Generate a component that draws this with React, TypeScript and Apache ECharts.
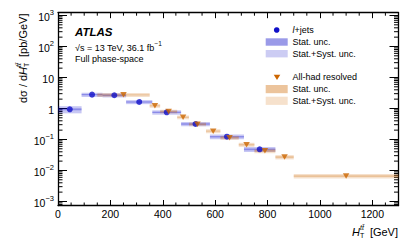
import React, { useEffect, useRef } from 'react';
import * as echarts from 'echarts';

// ---- data ----
const lepEdges = [0, 90, 170, 260, 360, 470, 580, 710, 830];
const lepValues = [0.94, 2.79, 2.67, 1.62, 0.75, 0.316, 0.123, 0.048];
const lepStat = [0.07, 0.05, 0.05, 0.05, 0.05, 0.06, 0.06, 0.07];
const lepTotal = [0.26, 0.16, 0.15, 0.15, 0.16, 0.16, 0.17, 0.18];

const hadEdges = [150, 350, 390, 455, 500, 565, 620, 690, 750, 830, 900, 1300];
const hadValues = [2.75, 1.22, 0.8, 0.52, 0.31, 0.185, 0.114, 0.068, 0.043, 0.027, 0.0066];
const hadStat = [0.05, 0.05, 0.05, 0.05, 0.05, 0.05, 0.06, 0.06, 0.06, 0.07, 0.07];
const hadTotal = [0.15, 0.14, 0.14, 0.14, 0.14, 0.15, 0.15, 0.15, 0.16, 0.16, 0.17];

const X_MIN = 0;
const X_MAX = 1300;
const X_INTERVAL = 200;
const X_MINOR_STEP = 50;
const Y_MIN = 7.4e-4;
const Y_MAX = 1230;

const FONT = '"Liberation Sans", Arial, Helvetica, sans-serif';
const BLUE = '#1010c8';
const ORANGE = '#cc6600';

const yMinorTicks: number[] = [];
for (let k = -4; k <= 3; k++) {
  for (let m = 2; m <= 9; m++) {
    const v = m * Math.pow(10, k);
    if (v > Y_MIN && v < Y_MAX) yMinorTicks.push(v);
  }
}
const xMinorTicks: number[] = [];
for (let v = X_MIN + X_MINOR_STEP; v < X_MAX; v += X_MINOR_STEP) {
  if (v % X_INTERVAL !== 0) xMinorTicks.push(v);
}

function bandSeries(edges: number[], values: number[], rel: number[], color: string, z: number) {
  return {
    type: 'custom',
    silent: true,
    z,
    encode: { x: [0, 1], y: 2 },
    data: values.map((v, i) => [edges[i], edges[i + 1], v, rel[i]]),
    renderItem: (_p: any, api: any) => {
      const lo = api.value(0);
      const hi = api.value(1);
      const v = api.value(2);
      const r = api.value(3);
      const p1 = api.coord([lo, v * (1 + r)]);
      const p2 = api.coord([hi, v * (1 - r)]);
      return {
        type: 'rect',
        shape: { x: p1[0], y: p1[1], width: p2[0] - p1[0], height: p2[1] - p1[1] },
        style: { fill: color },
      };
    },
  };
}

const centers = (edges: number[], values: number[]) =>
  values.map((v, i) => [(edges[i] + edges[i + 1]) / 2, v]);

export default function App() {
  const ref = useRef<HTMLDivElement>(null);
  useEffect(() => {
    if (!ref.current) return;
    const chart = echarts.init(ref.current, undefined, { renderer: 'svg' });
    const labelRich = {
      b: { fontSize: 10.5, fontFamily: FONT, color: '#000', verticalAlign: 'bottom', lineHeight: 14 },
      s: { fontSize: 7.5, fontFamily: FONT, color: '#000', verticalAlign: 'top', lineHeight: 14 },
    };
    const yFormatter = (v: number) => {
      const e = Math.round(Math.log10(v));
      if (e === 0) return '{b|1}';
      if (e === 1) return '{b|10}';
      return '{b|10}{s|' + (e < 0 ? '\u2212' + -e : e) + '}';
    };
    const txt = (x: number, y: number, text: string, size: number, extra: any = {}) => ({
      type: 'text',
      x,
      y,
      silent: true,
      style: {
        text,
        fontSize: size,
        fontFamily: FONT,
        fill: '#000',
        align: 'left',
        verticalAlign: 'middle',
        ...extra,
      },
    });
    const option: any = {
      animation: false,
      grid: { left: 58, right: 16.5, top: 12.7, bottom: 40.5, containLabel: false },
      xAxis: [
        {
          type: 'value',
          min: X_MIN,
          max: X_MAX,
          interval: X_INTERVAL,
          axisLine: { show: true, lineStyle: { color: '#000', width: 1.3 } },
          axisTick: { show: true, inside: true, length: 5.5, lineStyle: { color: '#000', width: 1 } },
          axisLabel: {
            show: true,
            showMaxLabel: false,
            margin: 3,
            fontSize: 10.5,
            fontFamily: FONT,
            color: '#000',
            formatter: (v: number) => String(v),
          },
          splitLine: { show: false },
        },
        {
          type: 'value',
          position: 'top',
          min: X_MIN,
          max: X_MAX,
          interval: X_INTERVAL,
          axisLine: { show: true, onZero: false, lineStyle: { color: '#000', width: 1.3 } },
          axisTick: { show: true, inside: true, length: 5.5, lineStyle: { color: '#000', width: 1 } },
          axisLabel: { show: false },
          splitLine: { show: false },
        },
      ],
      yAxis: [
        {
          type: 'log',
          logBase: 10,
          min: Y_MIN,
          max: Y_MAX,
          axisLine: { show: true, onZero: false, lineStyle: { color: '#000', width: 1.3 } },
          axisTick: { show: true, inside: true, length: 9, lineStyle: { color: '#000', width: 1 } },
          axisLabel: {
            show: true,
            showMinLabel: false,
            showMaxLabel: false,
            margin: 4,
            formatter: yFormatter,
            rich: labelRich,
          },
          splitLine: { show: false },
        },
        {
          type: 'log',
          logBase: 10,
          position: 'right',
          min: Y_MIN,
          max: Y_MAX,
          axisLine: { show: true, onZero: false, lineStyle: { color: '#000', width: 1.3 } },
          axisTick: { show: true, inside: true, length: 9, lineStyle: { color: '#000', width: 1 } },
          axisLabel: { show: false },
          splitLine: { show: false },
        },
      ],
      series: [
        // minor ticks on left/right
        {
          type: 'custom',
          silent: true,
          z: 1,
          data: yMinorTicks.map((v) => [X_MIN, v]),
          renderItem: (_p: any, api: any) => {
            const v = api.value(1);
            const a = api.coord([X_MIN, v]);
            const b = api.coord([X_MAX, v]);
            return {
              type: 'group',
              children: [
                { type: 'line', shape: { x1: a[0], y1: a[1], x2: a[0] + 4.5, y2: a[1] }, style: { stroke: '#000', lineWidth: 1 } },
                { type: 'line', shape: { x1: b[0], y1: b[1], x2: b[0] - 4.5, y2: b[1] }, style: { stroke: '#000', lineWidth: 1 } },
              ],
            };
          },
        },
        // minor ticks on bottom/top
        {
          type: 'custom',
          silent: true,
          z: 1,
          data: xMinorTicks.map((v) => [v, 1]),
          renderItem: (_p: any, api: any) => {
            const v = api.value(0);
            const a = api.coord([v, Y_MIN]);
            const b = api.coord([v, Y_MAX]);
            return {
              type: 'group',
              children: [
                { type: 'line', shape: { x1: a[0], y1: a[1], x2: a[0], y2: a[1] - 3 }, style: { stroke: '#000', lineWidth: 1 } },
                { type: 'line', shape: { x1: b[0], y1: b[1], x2: b[0], y2: b[1] + 3 }, style: { stroke: '#000', lineWidth: 1 } },
              ],
            };
          },
        },
        bandSeries(lepEdges, lepValues, lepTotal, 'rgba(0,0,204,0.22)', 2),
        bandSeries(lepEdges, lepValues, lepStat, 'rgba(0,0,204,0.3)', 3),
        bandSeries(hadEdges, hadValues, hadTotal, 'rgba(204,102,0,0.2)', 4),
        bandSeries(hadEdges, hadValues, hadStat, 'rgba(204,102,0,0.25)', 5),
        {
          type: 'scatter',
          z: 6,
          symbol: 'circle',
          symbolSize: 6,
          itemStyle: { color: BLUE },
          data: centers(lepEdges, lepValues),
        },
        {
          type: 'scatter',
          z: 7,
          symbol: 'triangle',
          symbolRotate: 180,
          symbolSize: [6.5, 5.5],
          itemStyle: { color: ORANGE },
          data: centers(hadEdges, hadValues),
        },
      ],
      graphic: [
        // ATLAS label
        txt(75, 32, 'ATLAS', 11.5, { fontWeight: 'bold', fontStyle: 'italic' }),
        {
          type: 'text',
          x: 75,
          y: 46,
          silent: true,
          style: {
            text: '{b|\u221As = 13 TeV, 36.1 fb}{s|\u22121}',
            fill: '#000',
            align: 'left',
            verticalAlign: 'middle',
            rich: {
              b: { fontSize: 9, fontFamily: FONT, fill: '#000', verticalAlign: 'bottom', lineHeight: 12 },
              s: { fontSize: 6.5, fontFamily: FONT, fill: '#000', verticalAlign: 'top', lineHeight: 12 },
            },
          },
        },
        txt(75, 58.5, 'Full phase-space', 9),
        // legend: l+jets
        { type: 'circle', silent: true, shape: { cx: 276.7, cy: 30, r: 2.8 }, style: { fill: BLUE } },
        {
          type: 'text',
          x: 292.5,
          y: 30,
          silent: true,
          style: {
            text: '{i|l}{n|+jets}',
            align: 'left',
            verticalAlign: 'middle',
            rich: {
              i: { fontSize: 9, fontFamily: FONT, fontStyle: 'italic', fill: '#000' },
              n: { fontSize: 9, fontFamily: FONT, fill: '#000' },
            },
          },
        },
        { type: 'rect', silent: true, shape: { x: 265.7, y: 38.3, width: 22, height: 7.4 }, style: { fill: '#9a9ae8' } },
        txt(292.5, 42, 'Stat. unc.', 9),
        { type: 'rect', silent: true, shape: { x: 265.7, y: 50, width: 22, height: 7.4 }, style: { fill: '#ccccf3' } },
        txt(292.5, 53.7, 'Stat.+Syst. unc.', 9),
        // legend: all-had
        {
          type: 'polygon',
          silent: true,
          shape: { points: [[273.7, 74.8], [280.3, 74.8], [277, 80]] },
          style: { fill: ORANGE },
        },
        txt(292.5, 77.3, 'All-had resolved', 9),
        { type: 'rect', silent: true, shape: { x: 265.7, y: 85, width: 22, height: 8.2 }, style: { fill: '#ecc49c' } },
        txt(292.5, 89, 'Stat. unc.', 9),
        { type: 'rect', silent: true, shape: { x: 265.7, y: 96.7, width: 22, height: 8.2 }, style: { fill: '#f6e1cc' } },
        txt(292.5, 101, 'Stat.+Syst. unc.', 9),
        // x axis title
        txt(398, 232, '[GeV]', 11, { align: 'right' }),
        txt(352, 232, 'H', 11, { fontStyle: 'italic' }),
        txt(360, 235.5, 'T', 7),
        txt(360, 227, 'tt\u0304', 7, { fontStyle: 'italic' }),
        // y axis title (rotated)
        {
          type: 'group',
          x: 23,
          y: 103,
          rotation: Math.PI / 2,
          silent: true,
          children: [
            txt(0, 0, 'd\u03C3 / d', 11),
            txt(28, 0, 'H', 11, { fontStyle: 'italic' }),
            txt(36, 3.5, 'T', 7),
            txt(36, -4.5, 'tt\u0304', 7, { fontStyle: 'italic' }),
            txt(43, 0, ' [pb/GeV]', 11),
          ],
        },
      ],
    };
    chart.setOption(option);
    return () => chart.dispose();
  }, []);
  return (
    <div
      ref={ref}
      style={{ position: 'fixed', left: 0, top: 0, width: 415, height: 246, background: '#fff' }}
    />
  );
}
